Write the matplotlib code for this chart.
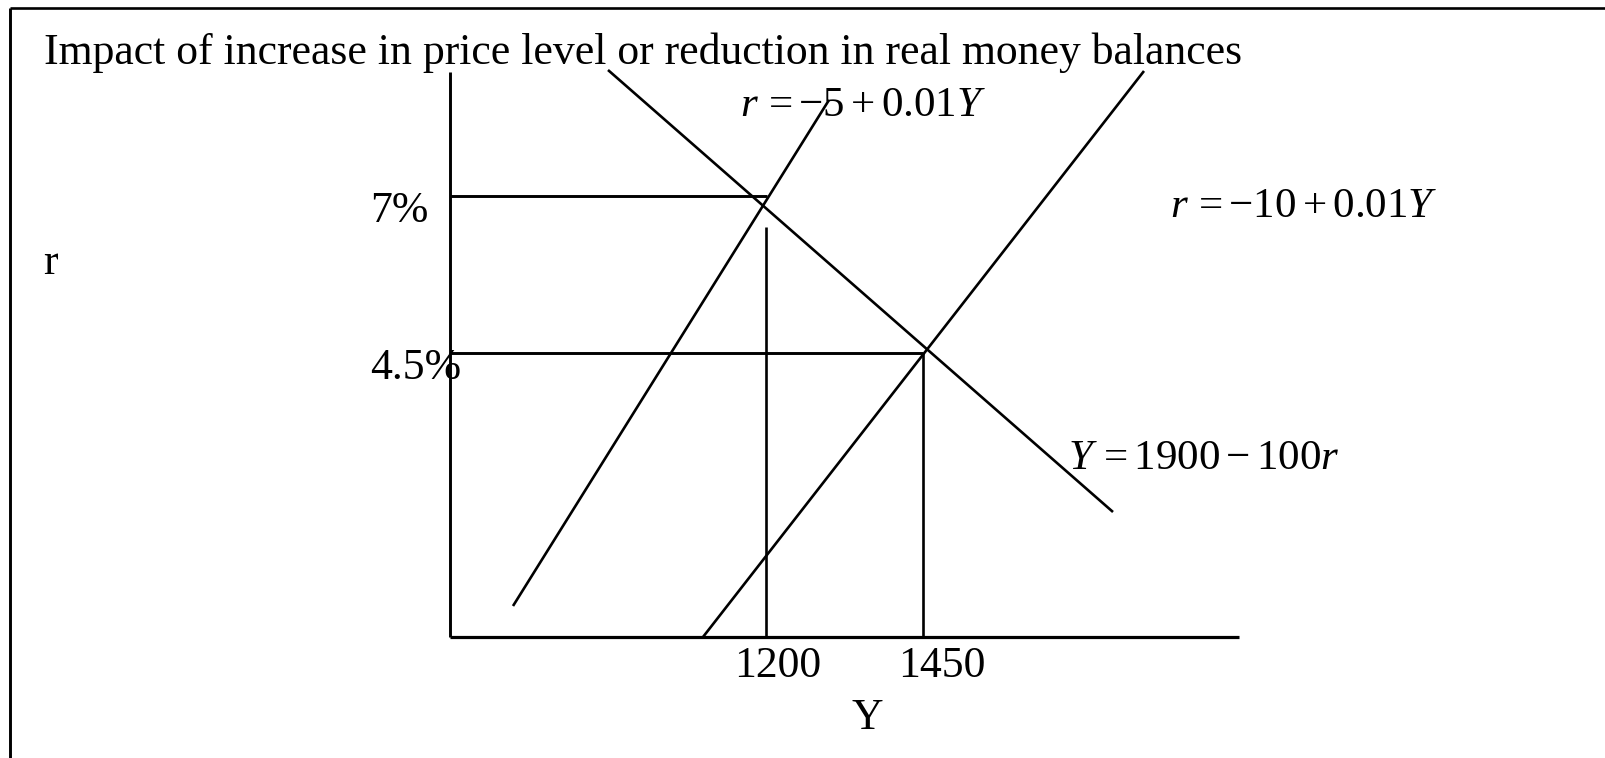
import matplotlib
matplotlib.use("Agg")
import matplotlib.pyplot as plt

# ---------------------------------------------------------------------------
# Diagram data (canvas units, y grows downward, origin top-left)
# ---------------------------------------------------------------------------
TITLE = "Impact of increase in price level or reduction in real money balances"

# axes of the diagram
Y_AXIS_X = [450, 450]
Y_AXIS_Y = [72, 637]
X_AXIS_X = [450, 1239]
X_AXIS_Y = [637, 637]

# IS curve  Y = 1900 - 100r
IS_X = [608, 1113]
IS_Y = [70, 512]
# LM after the price increase  r = -5 + 0.01Y
LM1_X = [513, 829]
LM1_Y = [606, 100]
# original LM  r = -10 + 0.01Y
LM2_X = [703, 1144]
LM2_Y = [637, 71]

# equilibrium guide lines
R_LEVELS = ["7%", "4.5%"]
R_LEVEL_Y = [196, 353]
R_LINE_END = [767, 923]
Y_LEVELS = ["1200", "1450"]
Y_LEVEL_X = [766, 923]
Y_LINE_TOP = [227, 353]

EQ_LABELS = [r"$r\,=-5+0.01Y$", r"$r\,=-10+0.01Y$", r"$Y\,=1900-100r$"]

# ---------------------------------------------------------------------------
plt.rcParams["font.family"] = ["Liberation Serif", "DejaVu Serif"]
plt.rcParams["mathtext.fontset"] = "custom"
plt.rcParams["mathtext.rm"] = "Liberation Serif"
plt.rcParams["mathtext.it"] = "Liberation Serif:italic"

W, H = 1605, 758
fig = plt.figure(figsize=(W / 100, H / 100), dpi=100)
ax = fig.add_axes([0, 0, 1, 1])
ax.set_xlim(0, W)
ax.set_ylim(H, 0)
ax.axis("off")

FS = 31.5
FS_EQ = 31
K = "black"

# frame (only top and left edges are visible in the original)
ax.plot([10, W + 5], [8, 8], color=K, lw=1.9, solid_capstyle="butt")
ax.plot([10, 10], [8, H + 5], color=K, lw=2.1, solid_capstyle="butt")

ax.text(44, 64, TITLE, fontsize=FS, ha="left", va="baseline")

# axes
ax.plot(Y_AXIS_X, Y_AXIS_Y, color=K, lw=2.1, solid_capstyle="butt")
ax.plot(X_AXIS_X, X_AXIS_Y, color=K, lw=2.3, solid_capstyle="butt")

# curves
for xs, ys in [(IS_X, IS_Y), (LM1_X, LM1_Y), (LM2_X, LM2_Y)]:
    ax.plot(xs, ys, color=K, lw=1.9, solid_capstyle="butt")

# horizontal guides at the two interest rates
for lab, yv, xe in zip(R_LEVELS, R_LEVEL_Y, R_LINE_END):
    ax.plot([Y_AXIS_X[0], xe], [yv, yv], color=K, lw=2.1, solid_capstyle="butt")
ax.text(370, 222, R_LEVELS[0], fontsize=FS, ha="left", va="baseline")
ax.text(370, 379, R_LEVELS[1], fontsize=FS, ha="left", va="baseline")

# vertical guides at the two output levels
for lab, xv, yt in zip(Y_LEVELS, Y_LEVEL_X, Y_LINE_TOP):
    ax.plot([xv, xv], [yt, X_AXIS_Y[0]], color=K, lw=1.9, solid_capstyle="butt")
ax.text(778, 677, Y_LEVELS[0], fontsize=FS, ha="center", va="baseline")
ax.text(942, 677, Y_LEVELS[1], fontsize=FS, ha="center", va="baseline")

# axis labels
ax.text(43, 274, "r", fontsize=FS, ha="left", va="baseline")
ax.text(867, 729, "Y", fontsize=FS, ha="center", va="baseline")

# equation labels
ax.text(740, 116, EQ_LABELS[0], fontsize=FS_EQ, ha="left", va="baseline")
ax.text(1170, 217, EQ_LABELS[1], fontsize=FS_EQ, ha="left", va="baseline")
ax.text(1068, 469, EQ_LABELS[2], fontsize=FS_EQ, ha="left", va="baseline")

fig.savefig("out.png", dpi=100, facecolor="white")
plt.close(fig)
